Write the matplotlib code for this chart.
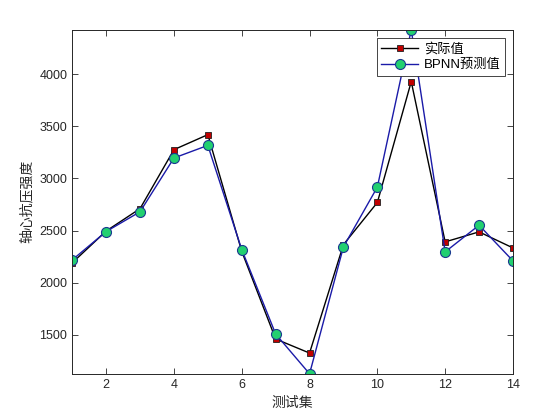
import matplotlib
matplotlib.use("Agg")
import matplotlib.pyplot as plt

x = list(range(1, 15))
actual = [2190, 2495, 2710, 3276, 3420, 2300, 1459, 1324, 2365, 2769, 3929, 2391, 2487, 2333]
bpnn = [2218, 2490, 2680, 3196, 3317, 2317, 1507, 1125, 2343, 2917, 4426, 2295, 2551, 2209]
xticks = [2, 4, 6, 8, 10, 12, 14]
yticks = [1500, 2000, 2500, 3000, 3500, 4000]

plt.rcParams['font.family'] = ['Liberation Sans', 'Noto Sans CJK SC', 'DejaVu Sans']
fig = plt.figure(figsize=(5.6, 4.2), dpi=100)
ax = fig.add_axes([0.129, 0.110, 0.787, 0.819])

ax.plot(x, actual, '-s', color='black', lw=1.0, markersize=5,
        markerfacecolor='#c00000', markeredgecolor='#202020', markeredgewidth=0.6,
        label='实际值')
ax.plot(x, bpnn, '-o', color='#1a1aa8', lw=1.0, markersize=7.2,
        markerfacecolor='#22d070', markeredgecolor='#1a3a90', markeredgewidth=0.8,
        label='BPNN预测值')

ax.set_xlim(1, 14)
ax.set_ylim(min(bpnn), max(bpnn))
ax.set_xticks(xticks)
ax.set_yticks(yticks)
ax.tick_params(direction='in', top=True, right=True, length=4, width=0.6,
               labelsize=9, colors='#262626', labelcolor='#262626')
for s in ax.spines.values():
    s.set_linewidth(0.7)
    s.set_color('#262626')

ax.set_xlabel('测试集', fontsize=10, family=['Noto Sans CJK SC'], color='#262626')
ax.set_ylabel('轴心抗压强度', fontsize=10, family=['Noto Sans CJK SC'], color='#262626')

leg = ax.legend(loc='upper right', fontsize=9.5, fancybox=False, framealpha=1,
                edgecolor='#262626', borderaxespad=0.6, handlelength=2.8,
                borderpad=0.35, labelspacing=0.3, handletextpad=0.4)
leg.get_frame().set_linewidth(0.6)

fig.savefig('out.png', dpi=100)
